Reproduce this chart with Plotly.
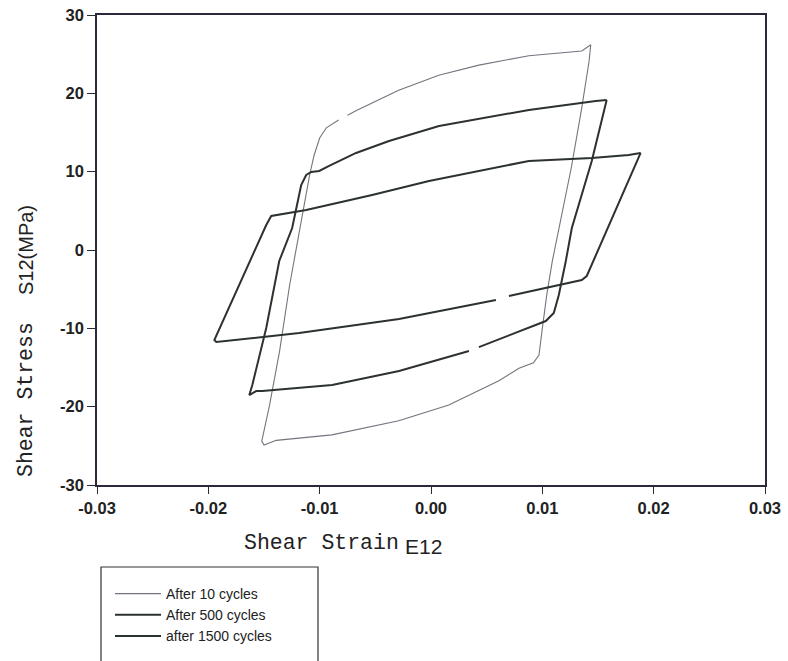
import plotly.graph_objects as go

# ---- data ----
strain_10 = [0.01435, 0.01354, 0.00879, 0.0043, 0.0007, -0.0029, -0.0067, -0.0075, None,
             -0.0083, -0.0094, -0.0100, -0.0105, -0.0109, -0.0114, -0.0117, -0.0127,
             -0.0136, -0.0145, -0.0152, -0.0150, -0.0139, -0.0089, -0.0029, 0.0016,
             0.0061, 0.0079, 0.0092, 0.0097, 0.0100, 0.0104, 0.0109, 0.0115, 0.0126,
             0.0135, 0.0142, 0.01435]
stress_10 = [26.2, 25.4, 24.8, 23.6, 22.3, 20.4, 17.8, 17.2, None,
             16.6, 15.6, 14.3, 12.1, 9.6, 5.7, 3.4, -4.5,
             -12.9, -19.8, -24.4, -24.9, -24.3, -23.6, -21.8, -19.8,
             -16.7, -15.1, -14.4, -13.4, -10.0, -5.7, -1.4, 2.8, 10.5,
             17.8, 24.1, 26.2]

strain_500 = [0.01578, 0.01480, 0.00879, 0.00430, 0.00072, -0.00377, -0.00673, -0.00915,
              -0.01004, -0.01076, -0.01121, -0.01166, -0.01202, -0.01247, -0.01363,
              -0.01480, -0.01605, -0.01632, -0.01570, -0.01516, -0.00888, -0.00287,
              0.00341, None, 0.00430, 0.01031, 0.01103, 0.01148, 0.01211, 0.01265,
              0.01444, 0.01534, 0.01578]
stress_500 = [19.16, 19.03, 17.88, 16.73, 15.84, 13.92, 12.39, 10.73,
              10.09, 9.96, 9.58, 8.30, 5.75, 2.81, -1.40,
              -9.96, -17.24, -18.52, -18.01, -18.01, -17.24, -15.45,
              -12.90, None, -12.39, -9.07, -8.05, -5.75, -1.40, 2.81,
              11.37, 16.48, 19.16]

strain_1500 = [0.01883, 0.01776, 0.01444, 0.00879, -0.00018, -0.00529, -0.01121, -0.01390,
               -0.01435, -0.01480, -0.01946, -0.01928, -0.01839, -0.01184, -0.00287,
               0.00583, None, 0.00700, 0.01354, 0.01399, 0.01883]
stress_1500 = [12.39, 12.13, 11.75, 11.37, 8.81, 7.02, 5.11, 4.47,
               4.34, 3.19, -11.49, -11.75, -11.62, -10.60, -8.81,
               -6.39, None, -5.87, -3.83, -3.32, 12.39]

series_names = ["After 10 cycles", "After 500 cycles", "after 1500 cycles"]
x_ticks = [-0.03, -0.02, -0.01, 0.00, 0.01, 0.02, 0.03]
x_tick_text = ["-0.03", "-0.02", "-0.01", "0.00", "0.01", "0.02", "0.03"]
y_ticks = [-30, -20, -10, 0, 10, 20, 30]
y_tick_text = ["-30", "-20", "-10", "0", "10", "20", "30"]

# ---- figure ----
fig = go.Figure()
fig.add_trace(go.Scatter(x=strain_10, y=stress_10, mode="lines", name=series_names[0],
                         line=dict(color="#74747f", width=1.1), connectgaps=False))
fig.add_trace(go.Scatter(x=strain_500, y=stress_500, mode="lines", name=series_names[1],
                         line=dict(color="#2c322e", width=2), connectgaps=False))
fig.add_trace(go.Scatter(x=strain_1500, y=stress_1500, mode="lines", name=series_names[2],
                         line=dict(color="#2c322e", width=2), connectgaps=False))

tickfont = dict(family="Liberation Sans, Arial, sans-serif", size=16.5, color="#222")
fig.update_xaxes(range=[-0.03, 0.03], tickvals=x_ticks,
                 ticktext=["<b>%s</b>" % t for t in x_tick_text],
                 showgrid=False, zeroline=False, showline=True, linecolor="#2a2a3a",
                 linewidth=1.5, mirror=True, ticks="outside", ticklen=7, tickwidth=1.3,
                 tickcolor="#2a2a3a", tickfont=tickfont, automargin=False)
fig.update_yaxes(range=[-30, 30], tickvals=y_ticks,
                 ticktext=["<b>%s</b>" % t for t in y_tick_text],
                 showgrid=False, zeroline=False, showline=True, linecolor="#2a2a3a",
                 linewidth=1.5, mirror=True, ticks="outside", ticklen=8, tickwidth=1.3,
                 tickcolor="#2a2a3a", tickfont=tickfont, automargin=False)

W, H = 788, 661
L, R, T, B = 97, 23, 15, 176
pw, ph = W - L - R, H - T - B

def px(xp):
    return (xp - L) / pw

def py(yp):
    return (H - B - yp) / ph

mono = "Liberation Mono, Courier New, monospace"
sans = "Liberation Sans, Arial, sans-serif"
annotations = [
    dict(text="Shear Strain", x=px(242), y=py(543), xanchor="left", yanchor="middle",
         font=dict(family=mono, size=21.5, color="#222")),
    dict(text="E12", x=px(403), y=py(546), xanchor="left", yanchor="middle",
         font=dict(family=sans, size=21, color="#222")),
    dict(text="Shear Stress", x=px(26), y=py(400), xanchor="center", yanchor="middle",
         textangle=-90, font=dict(family=mono, size=21.5, color="#222")),
    dict(text="S12(MPa)", x=px(26), y=py(250), xanchor="center", yanchor="middle",
         textangle=-90, font=dict(family=sans, size=20, color="#222")),
]
for a in annotations:
    a.update(xref="paper", yref="paper", showarrow=False)

shapes = [dict(type="rect", xref="paper", yref="paper",
               x0=px(101), x1=px(318), y0=py(672), y1=py(567),
               line=dict(color="#333", width=1.2), fillcolor="rgba(0,0,0,0)")]

fig.update_layout(
    width=W, height=H,
    margin=dict(l=L, r=R, t=T, b=B, autoexpand=False),
    paper_bgcolor="white", plot_bgcolor="white",
    showlegend=True,
    legend=dict(xref="container", yref="container", x=110 / W, y=1 - 578 / H,
                xanchor="left", yanchor="top", borderwidth=0, itemwidth=46,
                bgcolor="rgba(0,0,0,0)", tracegroupgap=0,
                font=dict(family=sans, size=14, color="#222")),
    annotations=annotations, shapes=shapes,
)

fig.write_html("out.html")
